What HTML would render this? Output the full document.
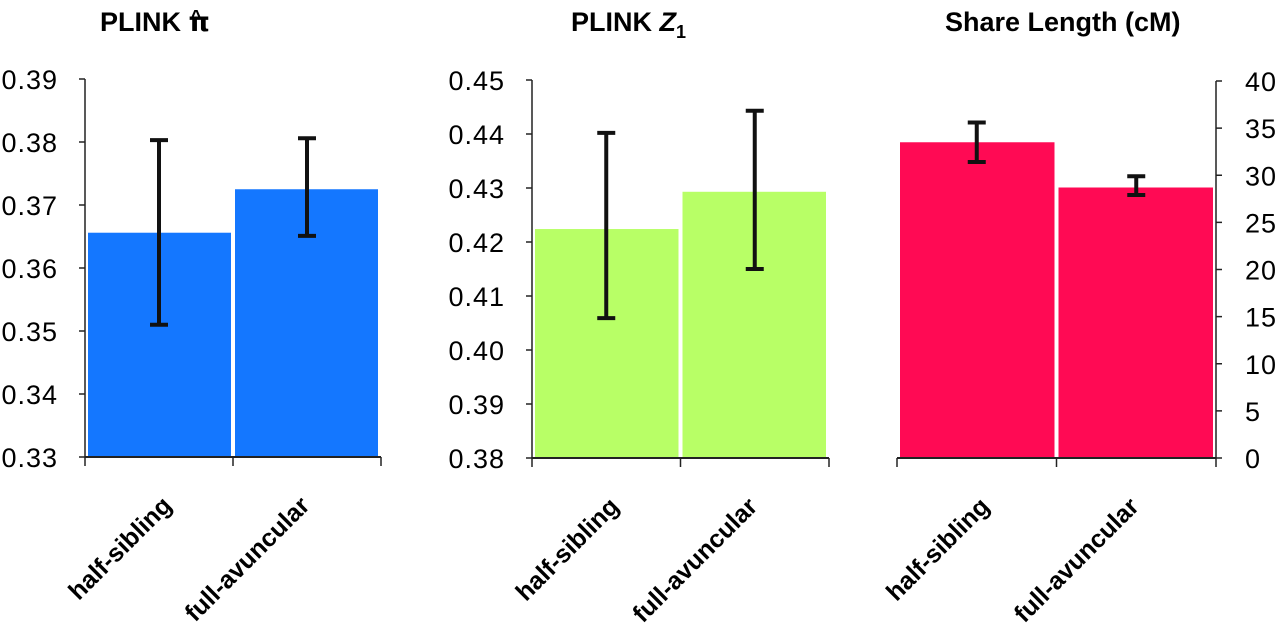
<!DOCTYPE html>
<html><head><meta charset="utf-8"><style>
html,body{margin:0;padding:0;background:#fff;}
svg{display:block;font-family:"Liberation Sans",sans-serif;}
</style></head><body>
<svg id="chart" width="1280" height="633" viewBox="0 0 1280 633" xmlns="http://www.w3.org/2000/svg"></svg>
<script>
const categories = ["half-sibling", "full-avuncular"];
const pihatValues = [0.3656, 0.3725];
const pihatLow = [0.3510, 0.3651];
const pihatHigh = [0.3803, 0.3806];
const pihatTicks = ["0.33","0.34","0.35","0.36","0.37","0.38","0.39"];
const z1Values = [0.4224, 0.4293];
const z1Low = [0.4059, 0.4150];
const z1High = [0.4402, 0.4443];
const z1Ticks = ["0.38","0.39","0.40","0.41","0.42","0.43","0.44","0.45"];
const shareValues = [33.5, 28.7];
const shareLow = [31.4, 27.9];
const shareHigh = [35.6, 29.9];
const shareTicks = ["0","5","10","15","20","25","30","35","40"];

const NS = "http://www.w3.org/2000/svg";
const svg = document.getElementById('chart');
function mk(tag, attrs, parent){
  const e = document.createElementNS(NS, tag);
  for (const k in attrs) e.setAttribute(k, attrs[k]);
  (parent||svg).appendChild(e);
  return e;
}
const panels = [
  {key:'pihat', values:pihatValues, low:pihatLow, high:pihatHigh, ticks:pihatTicks, min:0.33, max:0.39,
   axisX:85, x0:85, x1:381, top:79, bottom:457, color:'#1477ff', right:false},
  {key:'z1', values:z1Values, low:z1Low, high:z1High, ticks:z1Ticks, min:0.38, max:0.45,
   axisX:532, x0:532, x1:829, top:80, bottom:458, color:'#b8ff66', right:false},
  {key:'share', values:shareValues, low:shareLow, high:shareHigh, ticks:shareTicks, min:0, max:40,
   axisX:1216, x0:897, x1:1216, top:81, bottom:458, color:'#ff0a54', right:true}
];
panels.forEach(p=>{
  const g = mk('g', {});
  
  
  const y = v => p.bottom - (v - p.min) / (p.max - p.min) * (p.bottom - p.top);
  const bw = (p.x1 - p.x0) / categories.length;
  categories.forEach((c,i)=>{
    const bx0 = p.x0 + i*bw + (i===0 ? 3 : 2);
    const bx1 = p.x0 + (i+1)*bw - (i===0 ? 2 : 3);
    const r = mk('rect', {x:bx0, y:y(p.values[i]), width:bx1-bx0, height:p.bottom-y(p.values[i]), fill:p.color}, g);
    
    
    const cx = p.x0 + (i+0.5)*bw;
    const eg = mk('g', {stroke:'#111', 'stroke-width':4, fill:'none'}, g);
    
    
    mk('line', {x1:cx, x2:cx, y1:y(p.high[i]), y2:y(p.low[i])}, eg);
    mk('line', {x1:cx-9, x2:cx+9, y1:y(p.high[i]), y2:y(p.high[i])}, eg);
    mk('line', {x1:cx-9, x2:cx+9, y1:y(p.low[i]), y2:y(p.low[i])}, eg);
    const lx = cx + (i===0 ? 14 : 4), ly = p.bottom + 50;
    const t = mk('text', {x:lx, y:ly, transform:'rotate(-45 '+lx+' '+ly+')', 'text-anchor':'end',
      'font-size':25, 'font-weight':'bold', fill:'#000'}, g);
    t.textContent = c;
    
    
  });
  const ax = mk('g', {stroke:'#222', 'stroke-width':1.5}, g);
  
  
  mk('line', {x1:p.axisX, x2:p.axisX, y1:p.top, y2:p.bottom}, ax);
  mk('line', {x1:p.x0, x2:p.x1, y1:p.bottom, y2:p.bottom, 'stroke-width':2}, ax);
  for (let i=0;i<=categories.length;i++){
    const tx = p.x0 + i*bw;
    mk('line', {x1:tx, x2:tx, y1:p.bottom, y2:p.bottom+9}, ax);
  }
  p.ticks.forEach(tl=>{
    const ty = y(parseFloat(tl));
    mk('line', {x1:p.right ? p.axisX : p.axisX-6, x2:p.right ? p.axisX+6 : p.axisX, y1:ty, y2:ty}, ax);
    const t = mk('text', {x:p.right ? p.axisX+29 : p.axisX-27, y:ty+10, 'text-anchor':p.right?'start':'end',
      'font-size':27, 'letter-spacing':1, fill:'#000'}, g);
    t.textContent = tl;
    
    
  });
});
const t1 = mk('text', {x:100, y:31, 'font-size':27, 'font-weight':'bold'});


t1.innerHTML = 'PLINK <tspan font-family="DejaVu Sans">\u03C0</tspan>';
const hat = mk('text', {x:196, y:24, 'font-size':20, 'font-weight':'bold', 'text-anchor':'middle'});


hat.textContent = '^';
const t2 = mk('text', {x:571, y:31, 'font-size':27, 'font-weight':'bold'});


t2.innerHTML = 'PLINK <tspan font-style="italic">Z</tspan><tspan font-size="18" dy="7">1</tspan>';
const t3 = mk('text', {x:945, y:31, 'font-size':27, 'font-weight':'bold'});


t3.textContent = 'Share Length (cM)';
</script>
</body></html>
